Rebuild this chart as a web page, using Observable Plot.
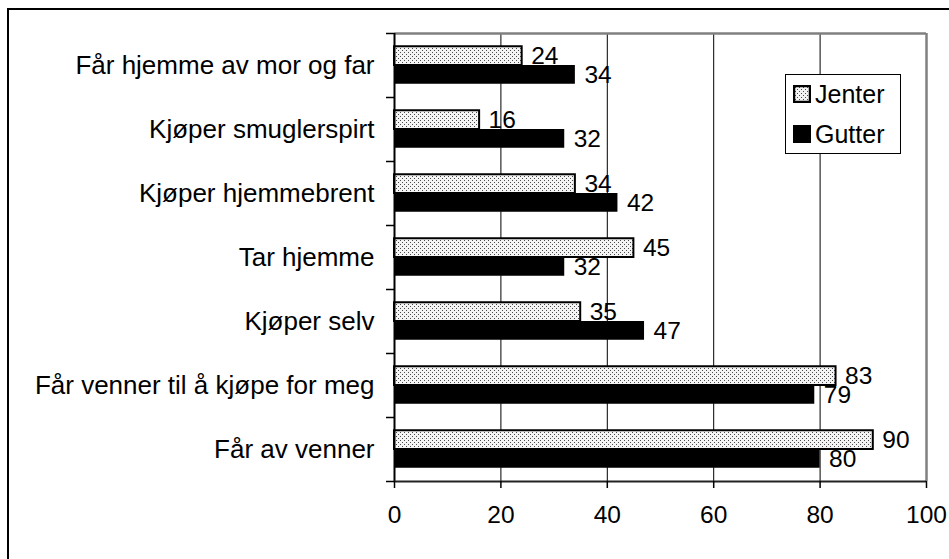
<!DOCTYPE html>
<html>
<head>
<meta charset="utf-8">
<script src="https://cdn.jsdelivr.net/npm/d3@7"></script>
<script src="https://cdn.jsdelivr.net/npm/@observablehq/plot@0.6"></script>
<style>
  html, body { margin: 0; padding: 0; background: #fff; overflow: hidden; }
  #wrap { position: relative; width: 949px; height: 559px; overflow: hidden; font-family: "Liberation Sans", Arial, sans-serif; }
  #outer { position: absolute; left: 7px; top: 8px; width: 1000px; height: 700px; border: 2px solid #000; box-sizing: border-box; }
  #chart { position: absolute; left: 0; top: 0; }
  #legend { position: absolute; left: 785px; top: 74px; width: 116px; height: 80px; box-sizing: border-box;
            border: 1.5px solid #000; background: #fff; font-size: 25px; color: #000; }
  .item { position: absolute; left: 7px; display: flex; align-items: center; height: 26px; }
  .item svg { margin-right: 4px; }
</style>
</head>
<body>
<div id="wrap">
  <div id="outer"></div>
  <div id="chart"></div>
  <div id="legend"></div>
</div>
<script>
const categories = [
  "Får hjemme av mor og far",
  "Kjøper smuglerspirt",
  "Kjøper hjemmebrent",
  "Tar hjemme",
  "Kjøper selv",
  "Får venner til å kjøpe for meg",
  "Får av venner"
];
const seriesNames = ["Jenter", "Gutter"];
const jenter = [24, 16, 34, 45, 35, 83, 90];
const gutter = [34, 32, 42, 32, 47, 79, 80];
const xTicks = [0, 20, 40, 60, 80, 100];
const gridTicks = [20, 40, 60, 80];

const jData = categories.map((c, i) => ({category: c, value: jenter[i]}));
const gData = categories.map((c, i) => ({category: c, value: gutter[i]}));

const FONT = "Liberation Sans, Arial, sans-serif";

function defs() {
  const d = d3.create("svg:defs");
  const p = d.append("pattern").attr("id", "dots").attr("width", 4).attr("height", 4)
    .attr("patternUnits", "userSpaceOnUse");
  p.append("rect").attr("width", 4).attr("height", 4).attr("fill", "#f4f4f4");
  p.append("rect").attr("x", 0).attr("y", 0).attr("width", 1).attr("height", 1).attr("fill", "#4a4a4a");
  p.append("rect").attr("x", 2).attr("y", 2).attr("width", 1).attr("height", 1).attr("fill", "#4a4a4a");
  return d.node();
}

const plot = Plot.plot({
  width: 949,
  height: 559,
  marginLeft: 394,
  marginRight: 23,
  marginTop: 33,
  marginBottom: 78,
  style: {fontFamily: FONT, fontSize: "24px", color: "#000", background: "transparent"},
  x: {domain: [0, 100], ticks: xTicks},
  y: {domain: categories, padding: 0, label: null},
  marks: [
    defs,
    // gridlines
    Plot.ruleX(gridTicks, {stroke: "#000", strokeWidth: 1}),
    // right and top border (gray)
    Plot.ruleX([100], {stroke: "#808080", strokeWidth: 2.5}),
    Plot.ruleY([categories[0]], {dy: -32, stroke: "#808080", strokeWidth: 2.5}),
    // bars
    Plot.barX(jData, {y: "category", x: "value", fill: "url(#dots)", stroke: "#000", strokeWidth: 2,
      insetTop: 13.25, insetBottom: 32}),
    Plot.barX(gData, {y: "category", x: "value", fill: "#000",
      insetTop: 32, insetBottom: 13.25}),
    // value labels
    Plot.text(jData, {y: "category", x: "value", text: d => String(d.value), dy: -9.4, dx: 9,
      textAnchor: "start", fontSize: 24.5, fill: "#000"}),
    Plot.text(gData, {y: "category", x: "value", text: d => String(d.value), dy: 9.4, dx: 9,
      textAnchor: "start", fontSize: 24.5, fill: "#000"}),
    // axes lines
    Plot.ruleX([0], {stroke: "#000", strokeWidth: 2}),
    Plot.ruleY([categories[categories.length - 1]], {dy: 32, stroke: "#222", strokeWidth: 2}),
    // left boundary ticks
    Plot.axisY({tickSize: 8, dy: -32, tickFormat: () => "", stroke: "#000", strokeWidth: 1.5}),
    Plot.axisY([categories[categories.length - 1]], {tickSize: 8, dy: 32, tickFormat: () => "", stroke: "#000", strokeWidth: 1.5}),
    // category labels
    Plot.axisY({tickSize: 0, tickPadding: 20, fontSize: 26, label: null}),
    // x axis
    Plot.axisX({ticks: xTicks, tickSize: 7, tickPadding: 17, fontSize: 24.5, label: null, stroke: "#000", strokeWidth: 1.5})
  ]
});
document.getElementById("chart").appendChild(plot);

// legend
const legend = document.getElementById("legend");
const swatches = {
  Jenter: `<svg width="18" height="18"><defs><pattern id="ldots" width="4" height="4" patternUnits="userSpaceOnUse"><rect width="4" height="4" fill="#f4f4f4"/><rect width="1" height="1" fill="#4a4a4a"/><rect x="2" y="2" width="1" height="1" fill="#4a4a4a"/></pattern></defs><rect x="1" y="1" width="16" height="16" fill="url(#ldots)" stroke="#000" stroke-width="2.5"/></svg>`,
  Gutter: `<svg width="18" height="18"><rect x="0" y="0" width="18" height="18" fill="#000"/></svg>`
};
seriesNames.forEach((name, i) => {
  const it = document.createElement("div");
  it.className = "item";
  it.style.top = (6 + i * 40) + "px";
  it.innerHTML = swatches[name] + `<span>${name}</span>`;
  legend.appendChild(it);
});
</script>
</body>
</html>
